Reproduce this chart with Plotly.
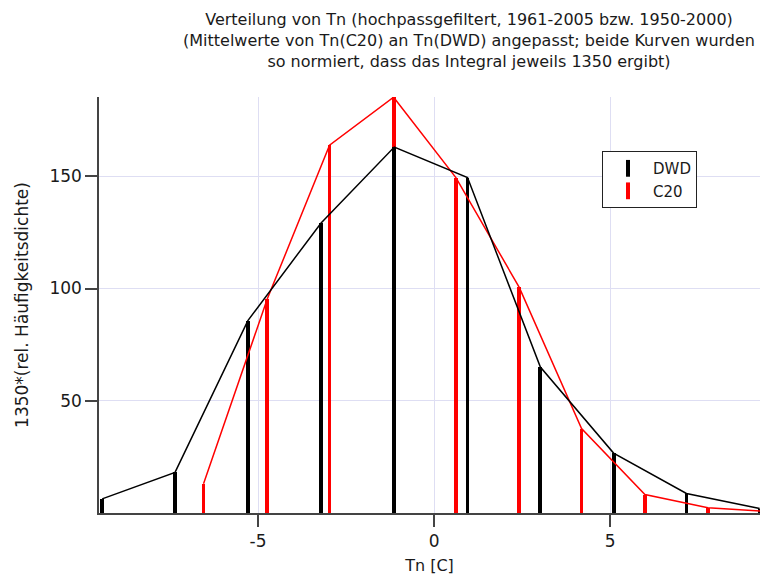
import plotly.graph_objects as go

# Bin centres [C] and normalised frequency densities (integral = 1350)
dwd_x = [-9.43, -7.36, -5.29, -3.21, -1.13, 0.95, 3.02, 5.10, 7.17, 9.25]
dwd_y = [6.3, 18.1, 85.7, 129.2, 163.0, 149.4, 65.0, 26.7, 8.7, 2.0]

c20_x = [-6.55, -4.74, -2.97, -1.15, 0.62, 2.42, 4.19, 5.99, 7.78, 9.58]
c20_y = [13.0, 95.3, 163.8, 185.2, 149.4, 100.5, 37.6, 8.2, 2.3, 0.6]

x_ticks = [-5, 0, 5]
x_tick_labels = ["-5", "0", "5"]
y_ticks = [50, 100, 150]

title_lines = [
    "Verteilung von Tn (hochpassgefiltert, 1961-2005 bzw. 1950-2000)",
    "(Mittelwerte von Tn(C20) an Tn(DWD) angepasst; beide Kurven wurden",
    "so normiert, dass das Integral jeweils 1350 ergibt)",
]

FONT = "DejaVu Sans"
BAR_W = 0.11

fig = go.Figure()

# C20 first so that the DWD sticks sit on top where they overlap
for xs, ys, col in [(c20_x, c20_y, "#ff0000"), (dwd_x, dwd_y, "#000000")]:
    fig.add_trace(go.Scatter(x=xs, y=ys, mode="lines",
                             line=dict(color=col, width=1.5),
                             showlegend=False, hoverinfo="skip"))
    fig.add_trace(go.Bar(x=xs, y=ys, width=BAR_W, marker=dict(color=col, line=dict(width=0)),
                         showlegend=False))

# Legend entries: short vertical stick symbols
for name, col in [("DWD", "#000000"), ("C20", "#ff0000")]:
    fig.add_trace(go.Scatter(x=[None], y=[None], mode="markers", name=name,
                             marker=dict(symbol="line-ns", size=12,
                                         line=dict(color=col, width=4))))

axis_common = dict(
    showline=True, linecolor="#444444", linewidth=1.5,
    ticks="outside", ticklen=12, tickwidth=1.5, tickcolor="#444444",
    showgrid=True, gridcolor="#dedef3", gridwidth=1,
    zeroline=False, tickfont=dict(size=17, color="#1a1a1a"),
)

fig.update_layout(
    width=760, height=576,
    margin=dict(l=99, r=0, t=97, b=63),
    paper_bgcolor="white", plot_bgcolor="white",
    font=dict(family=FONT, size=16, color="#1a1a1a"),
    bargap=0, barmode="overlay",
    xaxis=dict(range=[-9.52, 9.26], tickvals=x_ticks, ticktext=x_tick_labels,
               title=dict(text="Tn [C]", font=dict(size=16), standoff=10),
               **axis_common),
    yaxis=dict(range=[0, 185.3], tickvals=y_ticks,
               title=dict(text="1350*(rel. Häufigkeitsdichte)", font=dict(size=17), standoff=16),
               **axis_common),
    legend=dict(x=0.761, y=0.870, xanchor="left", yanchor="top",
                bordercolor="#222222", borderwidth=1, bgcolor="white",
                font=dict(size=15), itemwidth=40, tracegroupgap=0),
    annotations=[dict(text="<br>".join(title_lines), xref="paper", yref="paper",
                      x=(469 - 99) / 661, xanchor="center",
                      y=1 + (97 - 8) / 416, yanchor="top",
                      showarrow=False, align="center", font=dict(size=16))],
    showlegend=True,
)

fig.write_html("out.html")
